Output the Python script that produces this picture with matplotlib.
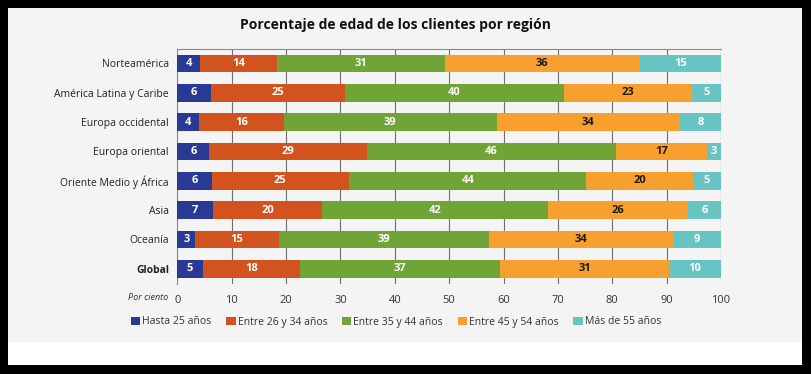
import numpy as np
import matplotlib.pyplot as plt
from matplotlib.patches import Rectangle, Patch

plt.rcParams['font.family'] = ['Open Sans', 'DejaVu Sans']

# datos
regiones = ["Norteamérica", "América Latina y Caribe", "Europa occidental",
            "Europa oriental", "Oriente Medio y África", "Asia", "Oceanía", "Global"]
grupos = ["Hasta 25 años", "Entre 26 y 34 años", "Entre 35 y 44 años",
          "Entre 45 y 54 años", "Más de 55 años"]
hasta25 = [4.2, 6.2, 4.0, 5.9, 6.3, 6.6, 3.3, 4.7]
entre26_34 = [14.2, 24.6, 15.6, 29.0, 25.3, 20.0, 15.4, 17.9]
entre35_44 = [30.8, 40.4, 39.2, 45.8, 43.6, 41.6, 38.6, 36.8]
entre45_54 = [35.9, 23.4, 33.6, 16.7, 19.6, 25.8, 33.9, 31.0]
mas55 = [14.9, 5.4, 7.6, 2.6, 5.2, 6.0, 8.8, 9.6]
ticks_x = [0, 10, 20, 30, 40, 50, 60, 70, 80, 90, 100]

colores = ["#283a93", "#d2531e", "#70a436", "#f7a02f", "#68c4c2"]
col_texto = ["white", "white", "white", "#1a1a1a", "white"]
gris = "#f4f4f4"

W, H = 811, 374
fig = plt.figure(figsize=(W / 100, H / 100), dpi=100, facecolor="black")
# panel gris y franja blanca (detrás de los ejes)
fig.patches.append(Rectangle((8 / W, 1 - 342 / H), 794 / W, 334 / H, zorder=-10,
                             transform=fig.transFigure, facecolor=gris, edgecolor="none"))
fig.patches.append(Rectangle((8 / W, 1 - 365 / H), 794 / W, 23 / H, zorder=-10,
                             transform=fig.transFigure, facecolor="white", edgecolor="none"))

ax = fig.add_axes([177.3 / W, 1 - 283.5 / H, (721 - 177.3) / W, (283.5 - 48.7) / H])
ax.set_facecolor(gris)

series = [hasta25, entre26_34, entre35_44, entre45_54, mas55]
y = np.arange(len(regiones))
izq = np.zeros(len(regiones))
for i, s in enumerate(series):
    s = np.array(s)
    ax.barh(y, s, left=izq, height=0.6, color=colores[i], zorder=3, label=grupos[i])
    for yy, l, v in zip(y, izq, s):
        ax.text(l + v / 2, yy, str(int(round(v))), ha="center", va="center",
                color=col_texto[i], fontsize=8, fontweight="bold", zorder=4)
    izq = izq + s

ax.set_xlim(0, 100)
ax.set_ylim(len(regiones) - 0.5, -0.5)
ax.set_xticks(ticks_x)
ax.set_xticklabels([str(t) for t in ticks_x], fontsize=8, color="#333333")
ax.set_yticks(y)
ax.set_yticklabels(regiones, fontsize=7.5, color="#222222")
ax.get_yticklabels()[-1].set_fontweight("bold")
ax.tick_params(axis="y", length=0, pad=6)
ax.tick_params(axis="x", length=0, pad=8)
ax.grid(axis="x", color="#707070", linewidth=0.8, zorder=0)
for lado in ["right", "bottom"]:
    ax.spines[lado].set_visible(False)
ax.spines["top"].set_color("#8a8a8a")
ax.spines["left"].set_color("#8a8a8a")
ax.spines["top"].set_linewidth(0.8)
ax.spines["left"].set_linewidth(0.8)

fig.text(168 / W, 1 - 298 / H, "Por ciento", ha="right", va="center",
         fontsize=6.5, style="italic", color="#333333")
fig.text(395 / W, 1 - 25 / H, "Porcentaje de edad de los clientes por región",
         ha="center", va="center", fontsize=10, fontweight="bold", color="#111111")

handles = [Patch(facecolor=c, edgecolor="none") for c in colores]
fig.legend(handles, grupos, loc="center", bbox_to_anchor=(396 / W, 1 - 322 / H),
           ncol=5, frameon=False, fontsize=7.5, handlelength=0.9, handleheight=0.9,
           handletextpad=0.2, columnspacing=1.4, labelcolor="#333333")

fig.savefig("out.png", dpi=100, facecolor="black")
